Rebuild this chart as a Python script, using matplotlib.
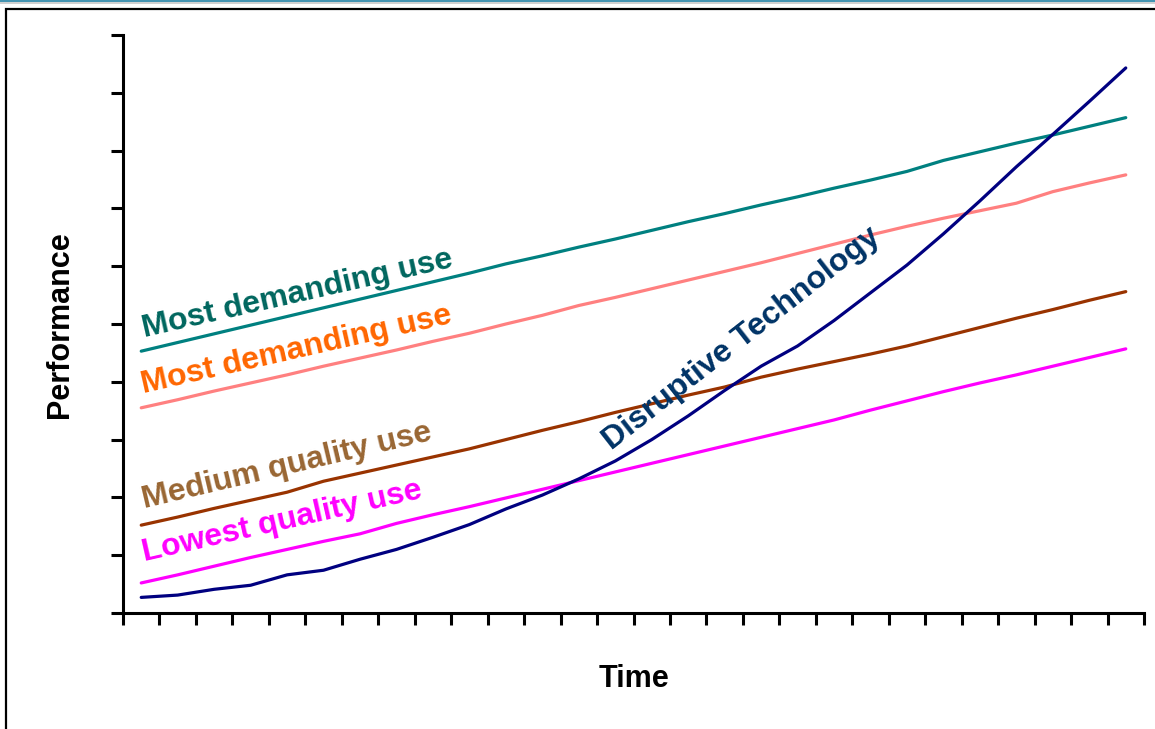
import numpy as np
import matplotlib.pyplot as plt
from matplotlib.patches import Rectangle
from matplotlib.lines import Line2D

plt.rcParams['font.family'] = ['Liberation Sans', 'DejaVu Sans']
plt.rcParams['font.weight'] = 'bold'

# Performance over time (28 periods, arbitrary units 0..10)
periods = np.arange(28)

most_demanding = [4.53, 4.68, 4.83, 4.98, 5.13, 5.28, 5.43, 5.58, 5.73, 5.88,
                  6.04, 6.18, 6.33, 6.47, 6.62, 6.77, 6.91, 7.06, 7.20, 7.35,
                  7.49, 7.64, 7.83, 7.98, 8.13, 8.27, 8.42, 8.57]
most_demanding_2 = [3.55, 3.69, 3.84, 3.98, 4.12, 4.27, 4.41, 4.55, 4.70, 4.84,
                    5.00, 5.15, 5.32, 5.46, 5.61, 5.76, 5.91, 6.06, 6.22, 6.38,
                    6.54, 6.69, 6.83, 6.96, 7.09, 7.29, 7.44, 7.58]
medium_quality = [1.52, 1.66, 1.81, 1.95, 2.09, 2.28, 2.42, 2.56, 2.70, 2.84,
                  3.00, 3.16, 3.31, 3.47, 3.62, 3.77, 3.91, 4.08, 4.22, 4.35,
                  4.48, 4.62, 4.78, 4.94, 5.10, 5.25, 5.41, 5.56]
lowest_quality = [0.52, 0.66, 0.81, 0.96, 1.10, 1.24, 1.37, 1.55, 1.70, 1.84,
                  1.99, 2.14, 2.29, 2.44, 2.59, 2.74, 2.89, 3.04, 3.19, 3.34,
                  3.51, 3.67, 3.83, 3.98, 4.12, 4.27, 4.42, 4.57]
disruptive = [0.27, 0.31, 0.41, 0.48, 0.66, 0.74, 0.93, 1.10, 1.31, 1.53,
              1.80, 2.04, 2.32, 2.63, 3.00, 3.41, 3.85, 4.27, 4.62, 5.06,
              5.54, 6.02, 6.56, 7.13, 7.72, 8.28, 8.85, 9.43]

fig = plt.figure(figsize=(11.55, 7.29), dpi=100)
ax = fig.add_axes([123 / 1155, 116 / 729, 1021 / 1155, 578 / 729])

lw = 2.3
ax.plot(periods, most_demanding, color='#008080', lw=lw, solid_capstyle='round')
ax.plot(periods, most_demanding_2, color='#FF8080', lw=lw, solid_capstyle='round')
ax.plot(periods, medium_quality, color='#993300', lw=lw, solid_capstyle='round')
ax.plot(periods, lowest_quality, color='#FF00FF', lw=lw, solid_capstyle='round')
ax.plot(periods, disruptive, color='#000080', lw=lw, solid_capstyle='round')

# line labels
fs = 23
ax.text(0.1, 4.78, 'Most demanding use', color='#00665E', fontsize=fs,
        rotation=12.8, rotation_mode='anchor', ha='left', va='baseline')
ax.text(0.05, 3.80, 'Most demanding use', color='#FF6600', fontsize=fs,
        rotation=12.8, rotation_mode='anchor', ha='left', va='baseline')
ax.text(0.1, 1.81, 'Medium quality use', color='#996633', fontsize=fs,
        rotation=13.3, rotation_mode='anchor', ha='left', va='baseline')
ax.text(0.1, 0.90, 'Lowest quality use', color='#FF00FF', fontsize=fs,
        rotation=12.8, rotation_mode='anchor', ha='left', va='baseline')
ax.text(12.91, 2.82, 'Disruptive Technology', color='#003366', fontsize=fs,
        rotation=38, rotation_mode='anchor', ha='left', va='baseline')

ax.set_xlim(-0.5, 27.5)
ax.set_ylim(0, 10)
ax.set_xticks(np.arange(-0.5, 28, 1))
ax.set_yticks(np.arange(0, 11, 1))
ax.set_xticklabels([])
ax.set_yticklabels([])
ax.tick_params(axis='both', direction='out', length=8.5, width=2.2, color='black')
for s in ['top', 'right']:
    ax.spines[s].set_visible(False)
for s in ['left', 'bottom']:
    ax.spines[s].set_linewidth(2.2)

fig.text(60 / 1155, 1 - 325 / 729, 'Performance', rotation=90, fontsize=22,
         ha='center', va='center')
fig.text(634 / 1155, 1 - 679 / 729, 'Time', fontsize=22, ha='center', va='center')

# slide frame
fig.patches.append(Rectangle((6 / 1155, -0.2), 1.5, 1.2 - 9 / 729, transform=fig.transFigure,
                             fill=False, lw=1.6, ec='black'))
fig.lines.append(Line2D([0, 1], [1 - 0.8 / 729, 1 - 0.8 / 729], transform=fig.transFigure,
                        color='#1F7FA3', lw=1.2))
fig.lines.append(Line2D([0, 1], [1 - 3 / 729, 1 - 3 / 729], transform=fig.transFigure,
                        color='#C8C8C8', lw=1.2))

fig.savefig('out.png', dpi=100)
